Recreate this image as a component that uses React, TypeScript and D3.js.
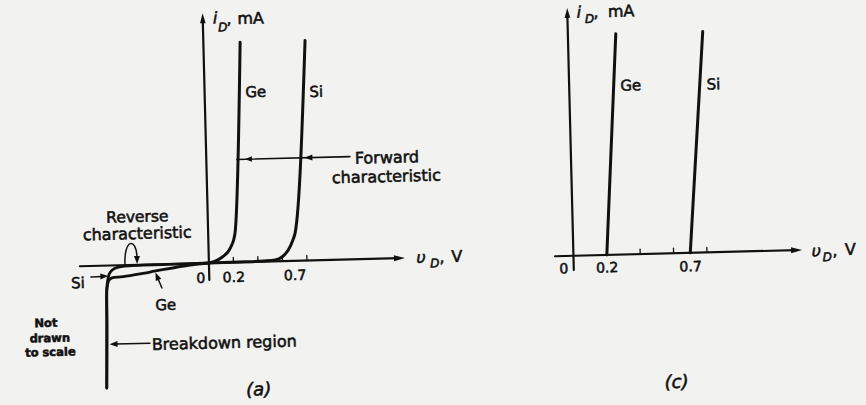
import React from 'react';
import * as d3 from 'd3';

const W = 866;
const H = 405;
const INK = '#111111';
const BG = '#f2f2f0';
const FONT = '"DejaVu Sans", "Liberation Sans", sans-serif';
const TILT = -1.45; // the printed page sits slightly askew

type Pt = [number, number];

// (a) Complete diode characteristic: volts vs milliamps (reverse side not to scale)
const geForward: Pt[] = [[0, 0], [0.07, 0.12], [0.132, 0.345], [0.165, 0.54], [0.19, 0.79], [0.208, 1.05], [0.219, 1.33], [0.3, 10]];
const siForward: Pt[] = [[0, 0], [0.3, 0.01], [0.45, 0.03], [0.54, 0.06], [0.6, 0.2], [0.65, 0.5], [0.69, 0.95], [0.709, 1.26], [0.83, 10]];
const geReverse: Pt[] = [[0, 0], [-9.5, -0.11], [-29.5, -0.54], [-43, -0.82], [-48.65, -0.89], [-50.25, -1.1], [-51, -1.61], [-51.35, -2.05], [-51.75, -5.66], [-52.6, -12]];
const siReverse: Pt[] = [[0, 0], [-20, -0.03], [-42, -0.07], [-47, -0.21], [-49.5, -0.5], [-50.5, -0.86], [-51.15, -1.61], [-51.35, -2.05], [-51.75, -5.66], [-52.6, -12]];
const ticksA = [0.2, 0.4, 0.6, 0.8];
const tickLabelsA = ['0.2', '0.7'];

// (c) Piecewise-linear approximation
const geLinear: Pt[] = [[0.2, 0], [0.287, 10]];
const siLinear: Pt[] = [[0.7, 0], [0.808, 10]];
const ticksC = [0.2, 0.4, 0.6, 0.8];
const tickLabelsC = ['0.2', '0.7'];

function head(x1: number, y1: number, x2: number, y2: number, len = 8, half = 3) {
  const a = Math.atan2(y2 - y1, x2 - x1);
  const bx = x2 - len * Math.cos(a);
  const by = y2 - len * Math.sin(a);
  const px = -Math.sin(a) * half;
  const py = Math.cos(a) * half;
  return `M${x2},${y2}L${bx + px},${by + py}L${bx - px},${by - py}Z`;
}

export default function App() {
  const xA = d3.scaleLinear().domain([-64.5, 0, 1.6]).range([78.3, 207.4, 403.5]);
  const yA = d3.scaleLinear().domain([-12, -1, 0, 10]).range([379.8, 271.3, 257.3, 37.3]);
  const xC = d3.scaleLinear().domain([-0.11, 0, 1.37]).range([553.6, 572, 800.7]);
  const yC = d3.scaleLinear().domain([0, 10]).range([259.3, 38.5]);

  const fwdA = d3.line<Pt>().x(d => xA(d[0])).y(d => yA(d[1])).curve(d3.curveMonotoneX);
  const revA = d3.line<Pt>().x(d => xA(d[0])).y(d => yA(d[1])).curve(d3.curveCatmullRom.alpha(0.5));
  const linC = d3.line<Pt>().x(d => xC(d[0])).y(d => yC(d[1]));

  const oxA = xA(0), oyA = yA(0);
  const oxC = xC(0), oyC = yC(0);
  const xEndA = xA.range()[2];
  const xEndC = xC.range()[2];

  const text = { fill: INK, stroke: INK, strokeWidth: 0.55, fontFamily: FONT } as const;

  return (
    <svg width={W} height={H} style={{ position: 'absolute', left: 0, top: 0, display: 'block' }}>
      <rect width={W} height={H} fill={BG} />
      <g transform={`rotate(${TILT} 433 200)`}>
        {/* ---------- (a) ---------- */}
        <g fill="none" stroke={INK} strokeLinecap="round">
          <line x1={oxA} y1={274.3} x2={oxA} y2={16} strokeWidth={2.2} />
          <line x1={xA.range()[0]} y1={oyA} x2={xEndA - 6} y2={oyA} strokeWidth={2.2} />
          {ticksA.map(v => (
            <line key={v} x1={xA(v)} y1={oyA} x2={xA(v)} y2={oyA - 5} strokeWidth={1.3} />
          ))}
          <path d={fwdA(geForward) ?? ''} strokeWidth={3} />
          <path d={fwdA(siForward) ?? ''} strokeWidth={3} />
          <path d={revA(geReverse) ?? ''} strokeWidth={2.8} />
          <path d={revA(siReverse) ?? ''} strokeWidth={2.8} />
          {/* callout lines */}
          <line x1={238} y1={154.5} x2={351} y2={154.5} strokeWidth={1.6} />
          <path d="M123.5,258 C122.5,231 135.5,229 135.6,250" strokeWidth={1.5} />
          <line x1={159.8} y1={281.1} x2={155} y2={269} strokeWidth={1.5} />
          <line x1={89} y1={268.3} x2={101} y2={268} strokeWidth={1.5} />
          <line x1={146.4} y1={336} x2={112} y2={336} strokeWidth={1.5} />
        </g>
        <g fill={INK} stroke="none">
          <path d={head(oxA, 30, oxA, 7.5, 10, 2.8)} />
          <path d={head(xEndA - 20, oyA, xEndA, oyA, 11, 3)} />
          <path d={head(320, 154.5, 305.5, 154.5, 8, 3)} />
          <path d={head(260, 154.5, 246, 154.5, 7, 2.8)} />
          <path d={head(135.6, 245, 135.6, 256.5, 8, 3)} />
          <path d={head(159.8, 281.1, 153.7, 265.5, 8, 3)} />
          <path d={head(89, 268.3, 106.5, 267.8, 8, 3)} />
          <path d={head(146.4, 336, 106, 336, 8, 3)} />
        </g>
        <g {...text}>
          <text x={217.5} y={18} fontSize={16} fontStyle="italic">i</text>
          <text x={222.5} y={26} fontSize={12} fontStyle="italic">D</text>
          <text x={231} y={19} fontSize={16}>,</text>
          <text x={242} y={19.2} fontSize={16}>mA</text>
          <text x={258.6} y={92.5} fontSize={15} textAnchor="middle">Ge</text>
          <text x={319.1} y={94} fontSize={15} textAnchor="middle">Si</text>
          <text x={388} y={161.8} fontSize={16} textAnchor="middle">Forward</text>
          <text x={387} y={180.8} fontSize={16} textAnchor="middle">characteristic</text>
          <text x={137} y={214.5} fontSize={15.5} textAnchor="middle">Reverse</text>
          <text x={136.5} y={231.5} fontSize={16} textAnchor="middle">characteristic</text>
          <text x={163.2} y={303.2} fontSize={15} textAnchor="middle">Ge</text>
          <text x={76.1} y={279} fontSize={15} textAnchor="middle">Si</text>
          <text x={148.2} y={342.9} fontSize={16}>Breakdown region</text>
          <text x={42.8} y={317.2} fontSize={11.5} fontWeight="bold" textAnchor="middle">Not</text>
          <text x={46.4} y={332.3} fontSize={11.5} fontWeight="bold" textAnchor="middle">drawn</text>
          <text x={46.6} y={346.3} fontSize={11.5} fontWeight="bold" textAnchor="middle">to scale</text>
          <text x={oxA - 8.4} y={oyA + 19.7} fontSize={14} textAnchor="middle">0</text>
          <text x={xA(0.2)} y={oyA + 19.7} fontSize={14} textAnchor="middle">{tickLabelsA[0]}</text>
          <text x={xA(0.7)} y={oyA + 19.2} fontSize={14} textAnchor="middle">{tickLabelsA[1]}</text>
          <text x={415} y={262.6} fontSize={16} fontStyle="italic">υ</text>
          <text x={428.5} y={267.5} fontSize={12} fontStyle="italic">D</text>
          <text x={438} y={262.6} fontSize={16}>,</text>
          <text x={450} y={262.5} fontSize={16}>V</text>
          <text x={254} y={391} fontSize={18} fontStyle="italic" textAnchor="middle">(a)</text>
        </g>

        {/* ---------- (c) ---------- */}
        <g fill="none" stroke={INK} strokeLinecap="round">
          <line x1={oxC} y1={273.5} x2={oxC} y2={20} strokeWidth={2.2} />
          <line x1={xC.range()[0]} y1={oyC} x2={xEndC - 6} y2={oyC} strokeWidth={2.2} />
          {ticksC.map(v => (
            <line key={v} x1={xC(v)} y1={oyC} x2={xC(v)} y2={oyC - 5} strokeWidth={1.3} />
          ))}
          <path d={linC(geLinear) ?? ''} strokeWidth={3} />
          <path d={linC(siLinear) ?? ''} strokeWidth={3} />
        </g>
        <g fill={INK} stroke="none">
          <path d={head(oxC, 30, oxC, 11.4, 10, 2.8)} />
          <path d={head(xEndC - 20, oyC, xEndC, oyC, 11, 3)} />
        </g>
        <g {...text}>
          <text x={581.3} y={21.5} fontSize={16} fontStyle="italic">i</text>
          <text x={589.5} y={27} fontSize={12} fontStyle="italic">D</text>
          <text x={598} y={21.5} fontSize={16}>,</text>
          <text x={612.5} y={21.4} fontSize={16}>mA</text>
          <text x={633.6} y={95.5} fontSize={15} textAnchor="middle">Ge</text>
          <text x={716.2} y={96.5} fontSize={15} textAnchor="middle">Si</text>
          <text x={oxC - 10} y={oyC + 17.5} fontSize={14} textAnchor="middle">0</text>
          <text x={xC(0.2)} y={oyC + 17.5} fontSize={14} textAnchor="middle">{tickLabelsC[0]}</text>
          <text x={xC(0.7)} y={oyC + 18.5} fontSize={14} textAnchor="middle">{tickLabelsC[1]}</text>
          <text x={810.3} y={266} fontSize={16} fontStyle="italic">υ</text>
          <text x={821} y={271} fontSize={12} fontStyle="italic">D</text>
          <text x={831} y={266} fontSize={16}>,</text>
          <text x={843.6} y={265.5} fontSize={16}>V</text>
          <text x={672} y={394} fontSize={18} fontStyle="italic" textAnchor="middle">(c)</text>
        </g>
      </g>
    </svg>
  );
}
